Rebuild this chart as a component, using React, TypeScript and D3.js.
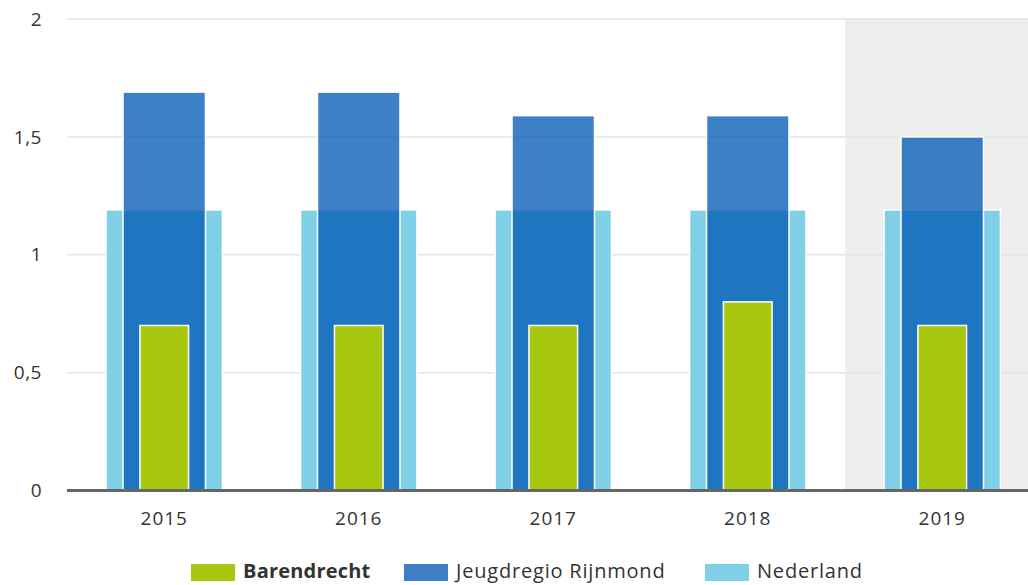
import React from "react";
import * as d3 from "d3";

const years = ["2015", "2016", "2017", "2018", "2019"];
const barendrecht = [0.7, 0.7, 0.7, 0.8, 0.7];
const rijnmond = [1.69, 1.69, 1.59, 1.59, 1.5];
const nederland = [1.19, 1.19, 1.19, 1.19, 1.19];
const yTicks = [0, 0.5, 1, 1.5, 2];
const highlightYear = "2019";

const W = 1028;
const H = 585;
const left = 67;
const right = 1039.5;
const top = 19;
const bottom = 490.5;

export default function App() {
  const x = d3.scaleBand<string>().domain(years).range([left, right]).padding(0);
  const y = d3.scaleLinear().domain([0, 2]).range([bottom, top]);
  const bw = x.bandwidth();
  const fmt = (v: number) => String(v).replace(".", ",");
  const font = "'Open Sans', 'Noto Sans', sans-serif";

  const series = [
    { name: "Nederland", data: nederland, color: "#7fcfe6", opacity: 1, half: 0.299 },
    { name: "Jeugdregio Rijnmond", data: rijnmond, color: "#0058b4", opacity: 0.76, half: 0.212 },
    { name: "Barendrecht", data: barendrecht, color: "#a8c70f", opacity: 1, half: 0.125 },
  ];

  const legend = [
    { name: "Barendrecht", color: "#a8c70f", x: 191, bold: true },
    { name: "Jeugdregio Rijnmond", color: "#3e80c8", x: 404, bold: false },
    { name: "Nederland", color: "#7fcfe6", x: 705, bold: false },
  ];

  return (
    <svg width={W} height={H} style={{ position: "absolute", left: 0, top: 0 }}>
      <rect x={0} y={0} width={W} height={H} fill="#ffffff" />
      <rect
        x={x(highlightYear)!}
        y={y(2)}
        width={bw}
        height={y(0) - y(2)}
        fill="#eeeeee"
      />
      {yTicks.map((t) => (
        <g key={t}>
          {t !== 0 && (
            <line x1={left} x2={W} y1={y(t)} y2={y(t)} stroke="#e3e3e3" strokeWidth={1.5} />
          )}
          <text
            x={42}
            y={y(t)}
            dy="0.35em"
            textAnchor="end"
            fontFamily={font}
            fontSize={19}
            letterSpacing={0.5}
            fill="#333"
          >
            {fmt(t)}
          </text>
        </g>
      ))}
      {series.map((s) =>
        years.map((yr, i) => {
          const cx = x(yr)! + bw / 2;
          const hw = bw * s.half;
          return (
            <rect
              key={s.name + yr}
              x={cx - hw}
              y={y(s.data[i])}
              width={hw * 2}
              height={y(0) - y(s.data[i])}
              fill={s.color}
              fillOpacity={s.opacity}
              stroke="#ffffff"
              strokeWidth={1.5}
            />
          );
        })
      )}
      <line x1={left} x2={W} y1={y(0)} y2={y(0)} stroke="#666666" strokeWidth={3} />
      {years.map((yr) => (
        <text
          key={yr}
          x={x(yr)! + bw / 2}
          y={525}
          textAnchor="middle"
          fontFamily={font}
          fontSize={19}
          letterSpacing={1}
          fill="#333"
        >
          {yr}
        </text>
      ))}
      {legend.map((l) => (
        <g key={l.name}>
          <rect x={l.x} y={564} width={44} height={17} fill={l.color} />
          <text
            x={l.x + 52}
            y={578}
            fontFamily={font}
            fontSize={20}
            fontWeight={l.bold ? 700 : 400}
            letterSpacing={l.bold ? 0.2 : 0.8}
            fill="#333"
          >
            {l.name}
          </text>
        </g>
      ))}
    </svg>
  );
}
